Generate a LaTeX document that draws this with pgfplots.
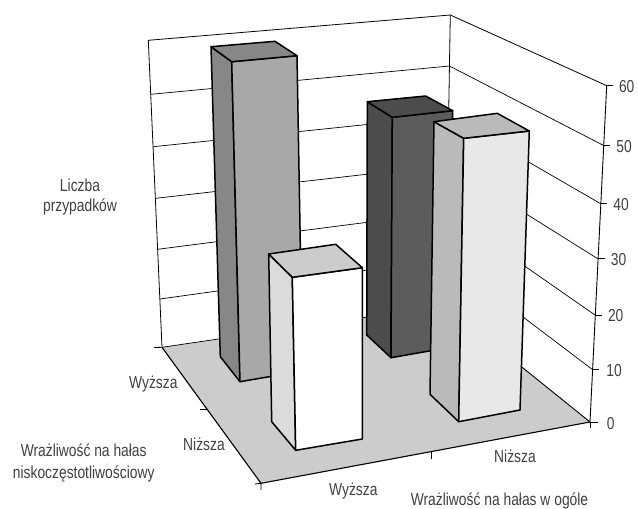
\documentclass[border=0pt]{standalone}
\usepackage{fontspec}
\setmainfont[FakeStretch=0.80]{Liberation Sans}
\usepackage{pgfplots}
\pgfplotsset{compat=1.18}
\definecolor{txt}{gray}{0.25}
\begin{document}
\begin{tikzpicture}[
  lab/.style={anchor=base,text=txt,font=\fontsize{17.3}{20}\selectfont,inner sep=0pt,outer sep=0pt}]
\useasboundingbox (0,0) rectangle (638pt,509pt);
\begin{axis}[
  at={(0,0)},anchor=south west,
  scale only axis,width=638pt,height=509pt,
  xmin=0,xmax=638,ymin=0,ymax=509,y dir=reverse,
  hide axis,clip=false]

% floor
\addplot[fill=black!20,draw=none] coordinates {(162,347.3)(445.5,305.5)(590,422)(261,483.3)} --cycle;
% back wall and side wall outline
\addplot[black,line width=0.8pt] coordinates {(162,347.3)(148.3,40.3)(450.3,15)(606.7,85.7)};
\addplot[black,line width=0.8pt] coordinates {(450.3,15)(445.5,305.5)};
% gridlines on the back wall and the side wall, 50 down to 10
\addplot[black,line width=0.7pt] coordinates {(151,94.3)(449.5,66)(603.3,145.3)};
\addplot[black,line width=0.7pt] coordinates {(153.3,146.7)(449,116)(600,203.3)};
\addplot[black,line width=0.7pt] coordinates {(155.7,198.3)(448,165)(597.7,258.7)};
\addplot[black,line width=0.7pt] coordinates {(157.7,249.3)(447,212)(595,315)};
\addplot[black,line width=0.7pt] coordinates {(160,299)(446.5,259)(591.7,369)};
\addplot[black,line width=0.7pt] coordinates {(162,347.3)(445.5,305.5)};
\addplot[black,line width=0.9pt] coordinates {(445.5,305.5)(590,422)};
% height axis with its ticks
\addplot[black,line width=0.9pt] coordinates {(606.7,85.7)(590,422)};
\addplot[black,line width=0.8pt] coordinates {(606.7,85.7)(613,85.7)};
\addplot[black,line width=0.8pt] coordinates {(603.3,145.3)(610,145.3)};
\addplot[black,line width=0.8pt] coordinates {(600,203.3)(607,203.3)};
\addplot[black,line width=0.8pt] coordinates {(597.7,258.7)(604.5,258.7)};
\addplot[black,line width=0.8pt] coordinates {(595,315)(601.5,315)};
\addplot[black,line width=0.8pt] coordinates {(591.7,369)(598.5,369)};
\addplot[black,line width=0.8pt] coordinates {(590,422)(598,422)};
% front floor edges and their ticks
\addplot[black,line width=1.1pt] coordinates {(162,347.3)(261,483.3)(590,422)};
\addplot[black,line width=0.8pt] coordinates {(154,347.5)(162,347.3)};
\addplot[black,line width=0.8pt] coordinates {(200,409)(207.5,409)};
\addplot[black,line width=0.8pt] coordinates {(255,484)(261,483.3)(261,490)};
\addplot[black,line width=0.8pt] coordinates {(431.7,451.7)(431.7,459)};
\addplot[black,line width=0.8pt] coordinates {(590,422)(590,428)};

% bar: upper, upper
\addplot[fill=black!47,draw=black,line width=1.5pt,line join=round] coordinates {(211,46.7)(231.7,61.7)(240,381.7)(220.3,356.7)} --cycle;
\addplot[fill=black!34,draw=black,line width=1.5pt,line join=round] coordinates {(231.7,61.7)(297,55.7)(302.5,371)(240,381.7)} --cycle;
\addplot[fill=black!47,draw=black,line width=1.5pt,line join=round] coordinates {(211,46.7)(275,41.3)(297,55.7)(231.7,61.7)} --cycle;
% bar: lower overall, upper low-frequency
\addplot[fill=black!70,draw=black,line width=1.5pt,line join=round] coordinates {(367.3,101.7)(392.3,117.3)(391,357.7)(366.7,335)} --cycle;
\addplot[fill=black!64,draw=black,line width=1.5pt,line join=round] coordinates {(392.3,117.3)(452.7,110.7)(452,347)(391,357.7)} --cycle;
\addplot[fill=black!70,draw=black,line width=1.5pt,line join=round] coordinates {(367.3,101.7)(425.7,96)(452.7,110.7)(392.3,117.3)} --cycle;
% bar: upper overall, lower low-frequency
\addplot[fill=black!14,draw=black,line width=1.5pt,line join=round] coordinates {(268.7,254)(292.3,277.3)(295.7,450.3)(271.7,421.7)} --cycle;
\addplot[fill=white,draw=black,line width=1.5pt,line join=round] coordinates {(292.3,277.3)(362.3,267.7)(362.3,439)(295.7,450.3)} --cycle;
\addplot[fill=black!20,draw=black,line width=1.5pt,line join=round] coordinates {(268.7,254)(335.7,244.3)(362.3,267.7)(292.3,277.3)} --cycle;
% bar: lower, lower
\addplot[fill=black!27,draw=black,line width=1.5pt,line join=round] coordinates {(434,121.7)(463.7,138.3)(458.7,421.7)(430,394.3)} --cycle;
\addplot[fill=black!9,draw=black,line width=1.5pt,line join=round] coordinates {(463.7,138.3)(529.3,131)(520,410)(458.7,421.7)} --cycle;
\addplot[fill=black!27,draw=black,line width=1.5pt,line join=round] coordinates {(434,121.7)(497.3,113.3)(529.3,131)(463.7,138.3)} --cycle;

% height axis labels
\node[lab] at (axis cs:626.7,92.7) {60};
\node[lab] at (axis cs:624,152) {50};
\node[lab] at (axis cs:621,210) {40};
\node[lab] at (axis cs:618.5,265.5) {30};
\node[lab] at (axis cs:615.7,321.5) {20};
\node[lab] at (axis cs:614,376) {10};
\node[lab] at (axis cs:610.7,429) {0};
% category labels
\node[lab] at (axis cs:153.3,388) {Wyższa};
\node[lab] at (axis cs:204,450.7) {Niższa};
\node[lab] at (axis cs:353.3,495) {Wyższa};
\node[lab] at (axis cs:515,462) {Niższa};
% axis titles
\node[lab] at (axis cs:80,191) {Liczba};
\node[lab] at (axis cs:80,211.5) {przypadków};
\node[lab] at (axis cs:499.5,505.5) {Wrażliwość na hałas w ogóle};
\node[lab] at (axis cs:83.7,456.7) {Wrażliwość na hałas};
\node[lab] at (axis cs:83.7,478.3) {niskoczęstotliwościowy};
\end{axis}
\end{tikzpicture}
\end{document}
